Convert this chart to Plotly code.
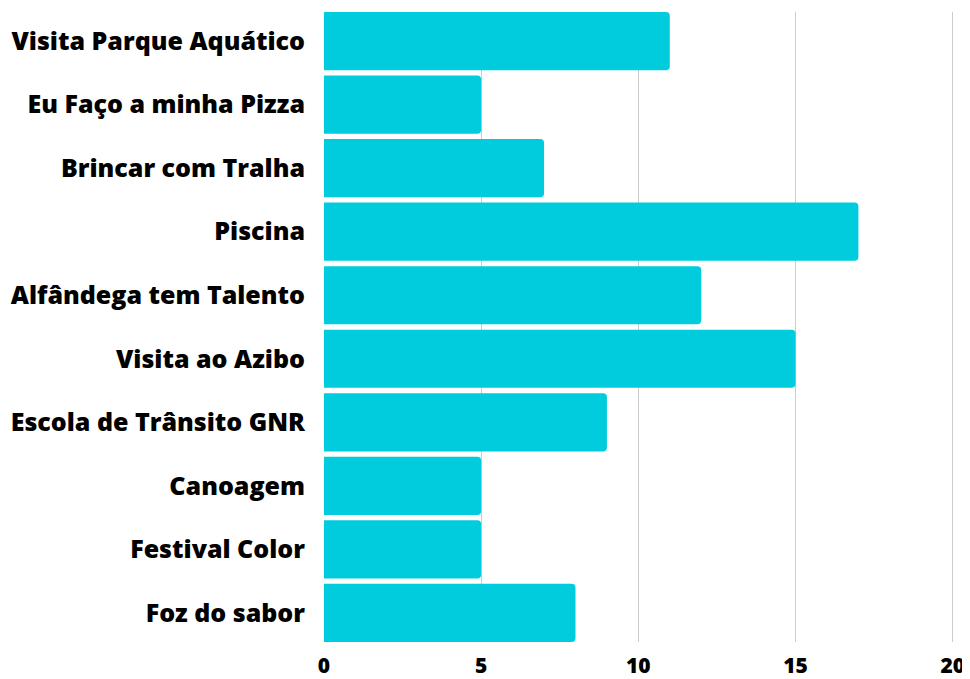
import plotly.graph_objects as go

categories = ["Visita Parque Aquático", "Eu Faço a minha Pizza", "Brincar com Tralha", "Piscina",
              "Alfândega tem Talento", "Visita ao Azibo", "Escola de Trânsito GNR", "Canoagem",
              "Festival Color", "Foz do sabor"]
values = [11, 5, 7, 17, 12, 15, 9, 5, 5, 8]
x_ticks = [0, 5, 10, 15, 20]

gap = 0.085
n = len(categories)

fig = go.Figure(go.Bar(
    x=values, y=categories, orientation="h",
    marker=dict(color="#00CCDD", line=dict(width=0)),
))
fig.update_layout(
    width=962, height=671,
    margin=dict(l=316, r=11, t=4, b=37),
    plot_bgcolor="white", paper_bgcolor="white",
    bargap=gap, barcornerradius=4,
    showlegend=False,
    font=dict(family="Open Sans", color="black"),
)
fig.update_yaxes(
    range=[n - 0.5 - gap / 2, -0.5 + gap / 2], showgrid=False, showline=False, zeroline=False,
    tickfont=dict(family="Open Sans", size=25, weight=800, color="black"),
    ticklabelstandoff=18, automargin=False,
)
fig.update_xaxes(
    range=[0, 20.2], tickvals=x_ticks, showgrid=True, gridcolor="#cccccc", gridwidth=1,
    zeroline=False, showline=False,
    tickfont=dict(family="Open Sans", size=21, weight=800, color="black"),
    ticklabelstandoff=9, automargin=False,
)
fig.write_html("out.html")
